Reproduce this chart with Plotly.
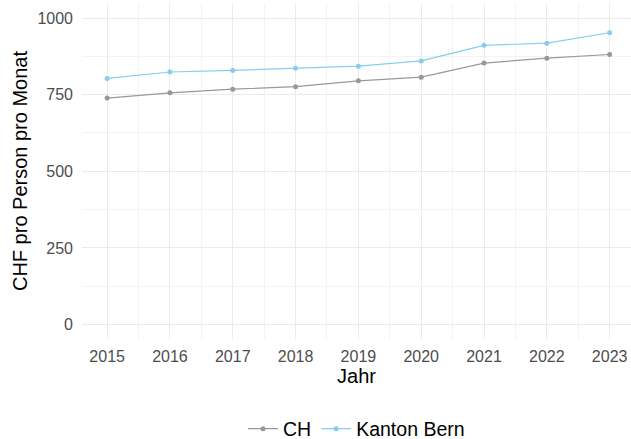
import plotly.graph_objects as go

years = [2015, 2016, 2017, 2018, 2019, 2020, 2021, 2022, 2023]
ch_values = [739, 756, 768, 776, 795, 807, 853, 869, 881]
bern_values = [803, 824, 829, 836, 843, 860, 911, 918, 952]
series_names = ["CH", "Kanton Bern"]
series_colors = ["#999999", "#87CEEB"]
y_ticks = [0, 250, 500, 750, 1000]

FONT = "Liberation Sans, Arial, sans-serif"

fig = go.Figure()
for name, vals, col in zip(series_names, [ch_values, bern_values], series_colors):
    fig.add_trace(go.Scatter(
        x=years, y=vals, name=name, mode="lines+markers",
        line=dict(color=col, width=1.2),
        marker=dict(color=col, size=5),
    ))

fig.update_layout(
    width=631, height=439,
    margin=dict(l=82, r=0, t=3, b=100, autoexpand=False),
    paper_bgcolor="white", plot_bgcolor="white",
    font=dict(family=FONT, color="black"),
    showlegend=True,
    legend=dict(
        orientation="h", xref="paper", yref="paper",
        x=(243 - 82) / 549, xanchor="left", y=(339 - 429) / 336, yanchor="middle",
        font=dict(size=19.5, family=FONT, color="black"),
        itemwidth=30, tracegroupgap=0,
    ),
    xaxis=dict(
        range=[2014.6, 2023.34], automargin=False,
        tickmode="array", tickvals=years, ticktext=[str(y) for y in years],
        showgrid=True, gridcolor="#EBEBEB", gridwidth=1,
        minor=dict(dtick=0.5, tick0=2014.5, showgrid=True, gridcolor="#F3F3F3", gridwidth=0.7),
        zeroline=False, showline=False, ticks="",
        ticklabelstandoff=6,
        tickfont=dict(size=16, color="#4D4D4D", family=FONT),
        title=dict(text="Jahr", font=dict(size=20, color="black", family=FONT), standoff=4),
    ),
    yaxis=dict(
        range=[-47, 1049], automargin=False,
        tickmode="array", tickvals=y_ticks, ticktext=[str(v) for v in y_ticks],
        showgrid=True, gridcolor="#EBEBEB", gridwidth=1,
        minor=dict(dtick=125, tick0=125, showgrid=True, gridcolor="#F3F3F3", gridwidth=0.7),
        zeroline=False, showline=False, ticks="",
        ticklabelstandoff=8,
        tickfont=dict(size=16, color="#4D4D4D", family=FONT),
        title=dict(text="CHF pro Person pro Monat", font=dict(size=20, color="black", family=FONT), standoff=4),
    ),
)

fig.write_html(
    "out.html",
    config={"displayModeBar": False},
    post_script="document.body.style.margin='0';document.body.style.padding='0';",
)
